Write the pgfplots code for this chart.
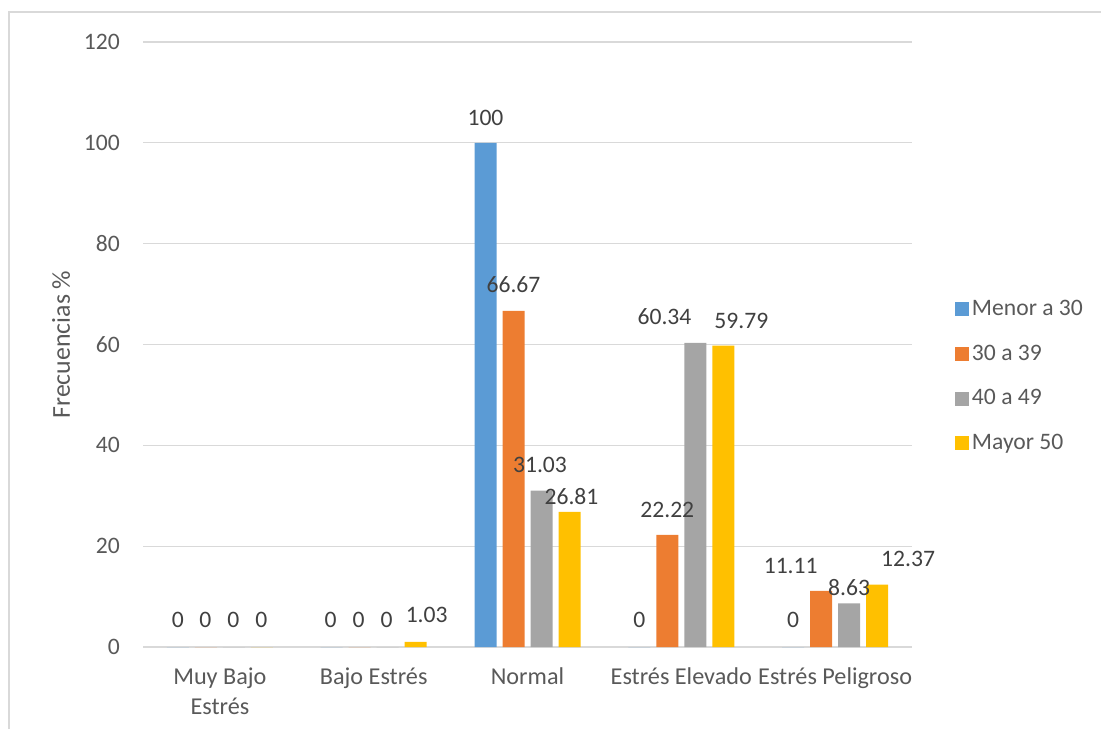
\documentclass[border=0pt]{standalone}
\usepackage{pgfplots}
\pgfplotsset{compat=1.18}
\usepackage{pgfplotstable}
\usepackage{fontspec}
\setmainfont{Carlito}
\definecolor{cblue}{HTML}{5B9BD5}
\definecolor{corange}{HTML}{ED7D31}
\definecolor{cgray}{HTML}{A5A5A5}
\definecolor{cyellow}{HTML}{FFC000}
\definecolor{gridc}{HTML}{D9D9D9}
\definecolor{textc}{HTML}{595959}
\definecolor{labc}{HTML}{404040}
\newcommand{\cf}{\fontsize{11.8pt}{15pt}\selectfont}
\newcommand{\xf}{\fontsize{12.1pt}{15pt}\selectfont}
\newcommand{\yf}{\fontsize{12.9pt}{15pt}\selectfont}
\newcommand{\tl}{\rule{0pt}{9pt}}

% x = category index, y = value, dx/dy = label offset (pt) from bar top
\pgfplotstableread{
x y dx dy
0 0 0 13.5
1 0 -0.5 13.5
2 100 0 12.7
3 0 0 13.5
4 0 0 13.5
}\tA
\pgfplotstableread{
x y dx dy
0 0 -0.3 13.5
1 0 -0.5 13.5
2 66.67 0 13.2
3 22.22 0 12.5
4 11.11 -15.2 12.4
}\tB
\pgfplotstableread{
x y dx dy
0 0 -0.3 13.5
1 0 -0.5 13.5
2 31.03 -0.75 12.8
3 60.34 -15.4 12.9
4 8.63 0 8
}\tC
\pgfplotstableread{
x y dx dy
0 0 -0.3 13.5
1 1.03 5.5 13.2
2 26.81 1 7.5
3 59.79 9 12.4
4 12.37 15.5 12.8
}\tD

\begin{document}
\begin{tikzpicture}
\path[use as bounding box] (0,0) rectangle (550.5pt,364.5pt);
\draw[color=gridc, line width=0.7pt] (4.5pt,0) -- (4.5pt,358.5pt) -- (550.5pt,358.5pt);
\begin{axis}[
  at={(71.5pt,41pt)}, anchor=south west,
  scale only axis, width=384.5pt, height=302.5pt,
  xmin=-0.5, xmax=4.5, ymin=0, ymax=120,
  clip=false,
  ybar=3pt, bar width=11pt,
  axis line style={draw=none},
  major tick length=0pt,
  ytick={0,20,...,120},
  ymajorgrids,
  major grid style={color=gridc, line width=0.65pt},
  xtick={0,1,2,3,4},
  xticklabels={{\tl Muy Bajo\\Estrés},{\tl Bajo Estrés},{\tl Normal},{\tl Estrés Elevado},{\tl Estrés Peligroso}},
  /pgf/number format/assume math mode=true,
  tick label style={font=\cf, text=textc},
  xticklabel style={align=center, anchor=north, yshift=-6.1pt, font=\xf},
  yticklabel style={xshift=-8.1pt},
  ylabel={Frecuencias \%},
  ylabel style={at={(axis description cs:-0.1066,0.5)}, anchor=center, font=\yf, text=textc},
  legend image code/.code={\fill[#1] (0pt,-3.5pt) rectangle (7pt,3.5pt);},
  legend cell align=left,
  legend style={at={(axis description cs:1.0559,0.5785)}, anchor=north west,
    draw=none, fill=none, inner sep=0pt, outer sep=0pt, row sep=10.2pt,
    font=\cf, text=textc, nodes={inner sep=1.5pt}},
]
\pgfplotsset{
  lab/.style={
    nodes near coords={\pgfmathprintnumber[assume math mode=true]{\pgfplotspointmeta}},
    point meta=y,
    visualization depends on={\thisrow{dx}\as\labdx},
    visualization depends on={\thisrow{dy}\as\labdy},
    nodes near coords style={anchor=center, font=\cf, text=labc, inner sep=0pt, xshift={\labdx*1pt}, yshift={\labdy*1pt}},
  }
}
\addplot[fill=cblue, draw=none, lab] table[x=x,y=y] {\tA};
\addlegendentry{Menor a 30}
\addplot[fill=corange, draw=none, lab] table[x=x,y=y] {\tB};
\addlegendentry{30 a 39}
\addplot[fill=cgray, draw=none, lab] table[x=x,y=y] {\tC};
\addlegendentry{40 a 49}
\addplot[fill=cyellow, draw=none, lab] table[x=x,y=y] {\tD};
\addlegendentry{Mayor 50}
\end{axis}
\end{tikzpicture}
\end{document}
